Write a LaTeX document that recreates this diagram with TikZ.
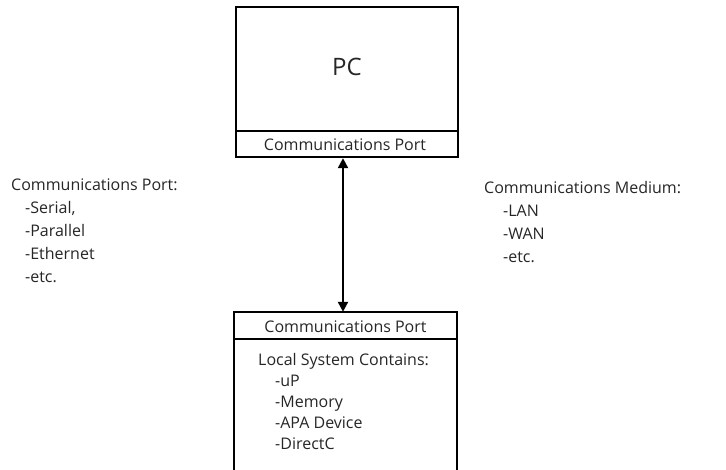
\documentclass[tikz,border=0pt]{standalone}
\usepackage{fontspec}
\setmainfont{Open Sans}
\usetikzlibrary{arrows.meta}
\begin{document}
\begin{tikzpicture}[x=1pt,y=-1pt,
  boxline/.style={line width=2.4pt},
  txt/.style={font=\fontsize{16}{23}\selectfont, text=black!85, inner sep=0pt, align=left, anchor=north west},
  boxtxt/.style={font=\fontsize{16}{21}\selectfont, text=black!85, inner sep=0pt, align=left, anchor=north west},
  link/.style={line width=2.2pt, {Triangle[length=10pt,width=10pt]}-{Triangle[length=10pt,width=10pt]}}]
\useasboundingbox (0,0) rectangle (726,470);
% PC box
\node[draw, boxline, minimum width=222pt, minimum height=150pt, inner sep=0pt] (pc) at (347,82) {};
\coordinate (pcdivl) at (235,131);
\coordinate (pcdivr) at (pc.east |- pcdivl);
\draw[boxline] (pcdivl) -- (pcdivr);
\node[font=\fontsize{24}{24}\selectfont, text=black!85] (pclabel) at (347,67) {PC};
\node[font=\fontsize{16}{16}\selectfont, text=black!85] (pcport) at (345,145) {Communications Port};
% Local box (open at bottom)
\node[inner sep=0pt, minimum width=223pt, minimum height=158pt] (local) at (345.5,391) {};
\draw[boxline] (local.south west) -- (local.north west) -- (local.north east) -- (local.south east);
\coordinate (lcdivl) at (local.west |- 0,339);
\coordinate (lcdivr) at (local.east |- 0,339);
\draw[boxline] (lcdivl) -- (lcdivr);
\node[font=\fontsize{16}{16}\selectfont, text=black!85] (lcport) at (345.5,327) {Communications Port};
\node[boxtxt] (lcinfo) at (258,353) {Local System Contains:\\\hspace*{17pt}-uP\\\hspace*{17pt}-Memory\\\hspace*{17pt}-APA Device\\\hspace*{17pt}-DirectC};
% connector
\draw[link] (pc.south -| 343,0) -- (local.north -| 343,0);
% side texts
\node[txt] (porttypes) at (11,179) {Communications Port:\\\hspace*{14pt}-Serial,\\\hspace*{14pt}-Parallel\\\hspace*{14pt}-Ethernet\\\hspace*{14pt}-etc.};
\node[txt] (media) at (484,181) {Communications Medium:\\\hspace*{19pt}-LAN\\\hspace*{19pt}-WAN\\\hspace*{19pt}-etc.};
\end{tikzpicture}
\end{document}
